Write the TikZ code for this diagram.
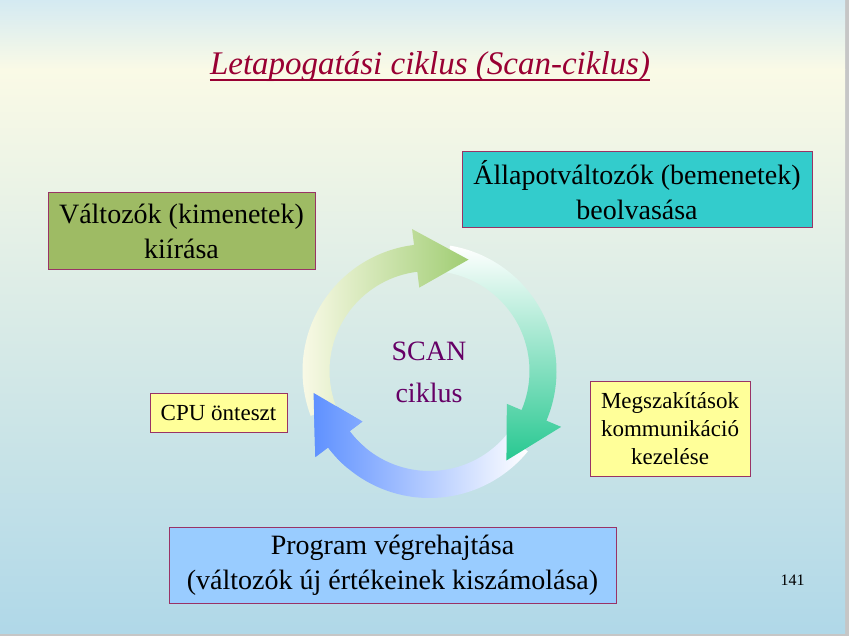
\documentclass[tikz,border=0pt]{standalone}
\usepackage{fontspec}
\setmainfont{Liberation Serif}
\usetikzlibrary{positioning}
\definecolor{titlered}{RGB}{153,0,51}
\definecolor{scanpurple}{RGB}{102,0,102}
\definecolor{frame}{RGB}{153,51,102}
\definecolor{boxgreen}{RGB}{158,187,100}
\definecolor{boxteal}{RGB}{51,204,204}
\definecolor{boxyellow}{RGB}{255,255,153}
\definecolor{boxblue}{RGB}{153,204,255}
\definecolor{bgtop}{RGB}{212,234,242}
\definecolor{bgmid}{RGB}{250,250,230}
\definecolor{bgbot}{RGB}{176,216,232}
\definecolor{edgegray}{RGB}{198,198,198}
\definecolor{arrpale}{RGB}{250,250,232}
\definecolor{arrgreen}{RGB}{160,205,115}
\definecolor{arrteal}{RGB}{40,200,145}
\definecolor{arrblue}{RGB}{95,145,255}
\tikzset{
    bigbox/.style={rectangle, draw=frame, line width=1pt, align=center, inner sep=0pt, font=\fontsize{28}{35}\selectfont},
    smallbox/.style={rectangle, draw=frame, line width=1pt, fill=boxyellow, align=center, inner sep=0pt, font=\fontsize{23}{28}\selectfont},
    greenarrow/.style={left color=arrpale, right color=arrgreen},
    tealarrow/.style={top color=white, bottom color=arrteal},
    bluearrow/.style={left color=arrblue, right color=white}
}
% one curved arrow of the cycle: tail angle, head back angle, tip angle
\newcommand{\cyclearrow}[3]{(#1:100) arc[start angle=#1, end angle=#2, radius=100] -- (#2:84) -- (#3:118) -- (#2:143) -- (#2:127) arc[start angle=#2, end angle=#1, radius=127] -- cycle}
\begin{document}
\begin{tikzpicture}[x=1pt, y=-1pt]
    \useasboundingbox (0,0) rectangle (849,636);
    % background
    \fill[edgegray] (0,0) rectangle (849,636);
    \shade[top color=bgtop, bottom color=bgmid] (0,0) rectangle (845,70);
    \shade[top color=bgmid, bottom color=bgbot] (0,70) rectangle (845,633);

    \node[anchor=base, inner sep=0pt, text=titlered, font=\fontsize{33}{40}\selectfont\itshape] (title) at (430,75) {Letapogatási ciklus (Scan-ciklus)};
    \draw[titlered, line width=1.5pt] ([yshift=-5pt]title.base west) -- ([yshift=-5pt]title.base east);

    \node[bigbox, fill=boxteal, minimum width=350pt, minimum height=76pt] (inputs) at (637,190) {Állapotváltozók (bemenetek)\\beolvasása};
    \node[bigbox, fill=boxgreen, minimum width=267pt, minimum height=77pt] (outputs) at (181.5,231.5) {Változók (kimenetek)\\kiírása};
    \node[smallbox, minimum width=137pt, minimum height=39pt] (selftest) at (218.5,412.5) {CPU önteszt};
    \node[smallbox, minimum width=160pt, minimum height=95pt] (interrupts) at (670,428.5) {Megszakítások\\kommunikáció\\kezelése};
    \node[bigbox, fill=boxblue, minimum width=447pt, minimum height=76pt] (program) at (392.5,565) {Program végrehajtása\\(változók új értékeinek kiszámolása)};

    % the cycle
    \begin{scope}[shift={(429.5,371)}, yscale=-1]
        \shade[bluearrow] \cyclearrow{-39.3}{-143}{-169.3};
        \shade[tealarrow] \cyclearrow{80.7}{-23}{-49.3};
        \shade[greenarrow] \cyclearrow{200.7}{97}{70.7};
        \begin{scope}
            \clip (0,0) -- (-130:170) arc[start angle=-130, end angle=-185, radius=170] -- cycle;
            \shade[bluearrow] \cyclearrow{-39.3}{-143}{-169.3};
        \end{scope}
    \end{scope}
    \node[text=scanpurple, font=\fontsize{28}{42}\selectfont, align=center] (scan) at (429,372) {SCAN\\ciklus};

    \node[anchor=base, font=\fontsize{16}{19}\selectfont] (pagenum) at (792.5,585) {141};
\end{tikzpicture}
\end{document}
